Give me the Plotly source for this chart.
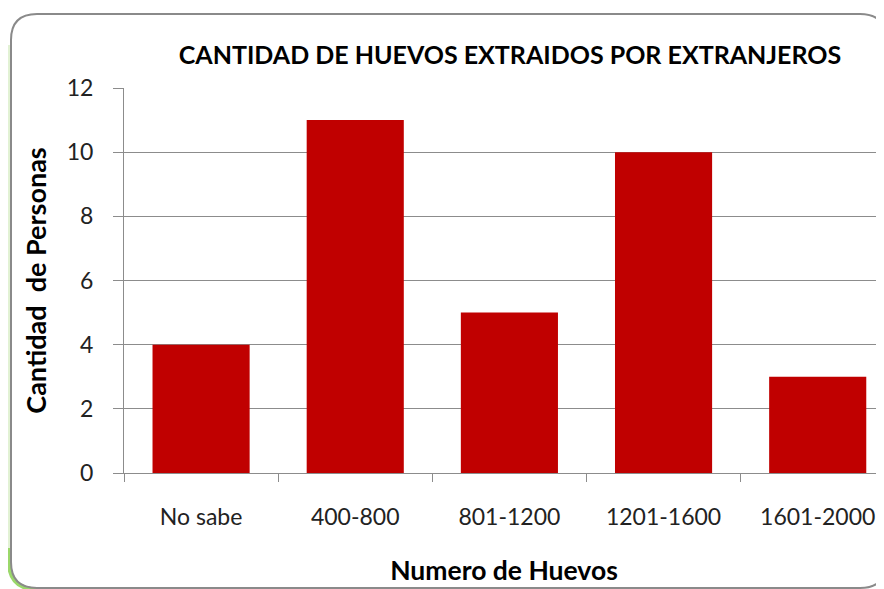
import plotly.graph_objects as go

# datos
categorias = ["No sabe", "400-800", "801-1200", "1201-1600", "1601-2000"]
personas = [4, 11, 5, 10, 3]

# la pagina deja 8px de margen en el body -> se compensa
OFF = 8
W, H = 884 - OFF, 589 - OFF
L, R, T, B = 124 - OFF, 884 - OFF, 88 - OFF, 473 - OFF  # area de trazado


def px(x):
    return (x - OFF - L) / (R - L)


def py(y):
    return (B - (y - OFF)) / (B - T)


fig = go.Figure()
fig.add_trace(go.Bar(
    x=categorias,
    y=personas,
    width=0.63,
    marker=dict(color="#C00000", line=dict(width=0)),
    hoverinfo="x+y",
))

# marco redondeado tipo Excel (coordenadas de la imagen original)
x0, y0, x1, y1, r = 11, 14, 886, 588, 26
marco = (f"M {px(x0)},{py(y0 + r)} Q {px(x0)},{py(y0)} {px(x0 + r)},{py(y0)} "
         f"L {px(x1 - r)},{py(y0)} Q {px(x1)},{py(y0)} {px(x1)},{py(y0 + r)} "
         f"L {px(x1)},{py(y1 - r)} Q {px(x1)},{py(y1)} {px(x1 - r)},{py(y1)} "
         f"L {px(x0 + r)},{py(y1)} Q {px(x0)},{py(y1)} {px(x0)},{py(y1 - r)} Z")
sombra = f"M {px(x0 - 2)},{py(45)} L {px(x0 - 2)},{py(y1 - r)}"
sombra2 = (f"M {px(x0 - 2)},{py(y1 - 40)} L {px(x0 - 2)},{py(y1 - r)} "
           f"Q {px(x0 - 2)},{py(y1 + 2)} {px(x0 + r + 4)},{py(y1 + 2)}")

fig.update_layout(
    width=W,
    height=H,
    margin=dict(l=L, r=W - R, t=T, b=H - B),
    paper_bgcolor="white",
    plot_bgcolor="white",
    showlegend=False,
    font=dict(family="Lato, Open Sans, sans-serif", color="#222222"),
    title=dict(
        text="<b>CANTIDAD DE HUEVOS EXTRAIDOS POR EXTRANJEROS</b>",
        x=px(510), xref="paper", xanchor="center",
        y=1 - (55 - OFF) / H, yanchor="middle",
        font=dict(size=25, color="black"),
    ),
    xaxis=dict(
        range=[-0.5, 4.43],
        showgrid=False,
        showline=True, linecolor="#8c8c8c", linewidth=1,
        ticks="outside", tickson="boundaries", ticklen=8, tickcolor="#8c8c8c",
        tickfont=dict(size=23, color="#222222"),
        ticklabelstandoff=23,
        title=dict(text="<b>Numero de Huevos</b>", font=dict(size=26.5, color="black"), standoff=32),
        fixedrange=True,
    ),
    yaxis=dict(
        range=[0, 12],
        dtick=2,
        showgrid=True, gridcolor="#8c8c8c", gridwidth=1,
        showline=True, linecolor="#8c8c8c", linewidth=1,
        ticks="outside", ticklen=10, tickcolor="#8c8c8c",
        tickfont=dict(size=23, color="#222222"),
        ticklabelstandoff=15,
        zeroline=False,
        title=dict(text="<b>Cantidad  de Personas</b>", font=dict(size=27, color="black"), standoff=12),
        fixedrange=True,
    ),
    shapes=[
        dict(type="path", path=sombra, xref="paper", yref="paper",
             line=dict(color="#e2f2d4", width=3), layer="below"),
        dict(type="path", path=sombra2, xref="paper", yref="paper",
             line=dict(color="#9bd86a", width=4), layer="below"),
        dict(type="path", path=marco, xref="paper", yref="paper",
             line=dict(color="#8a8a8a", width=2), layer="below"),
    ],
)

fig.write_html("out.html")
